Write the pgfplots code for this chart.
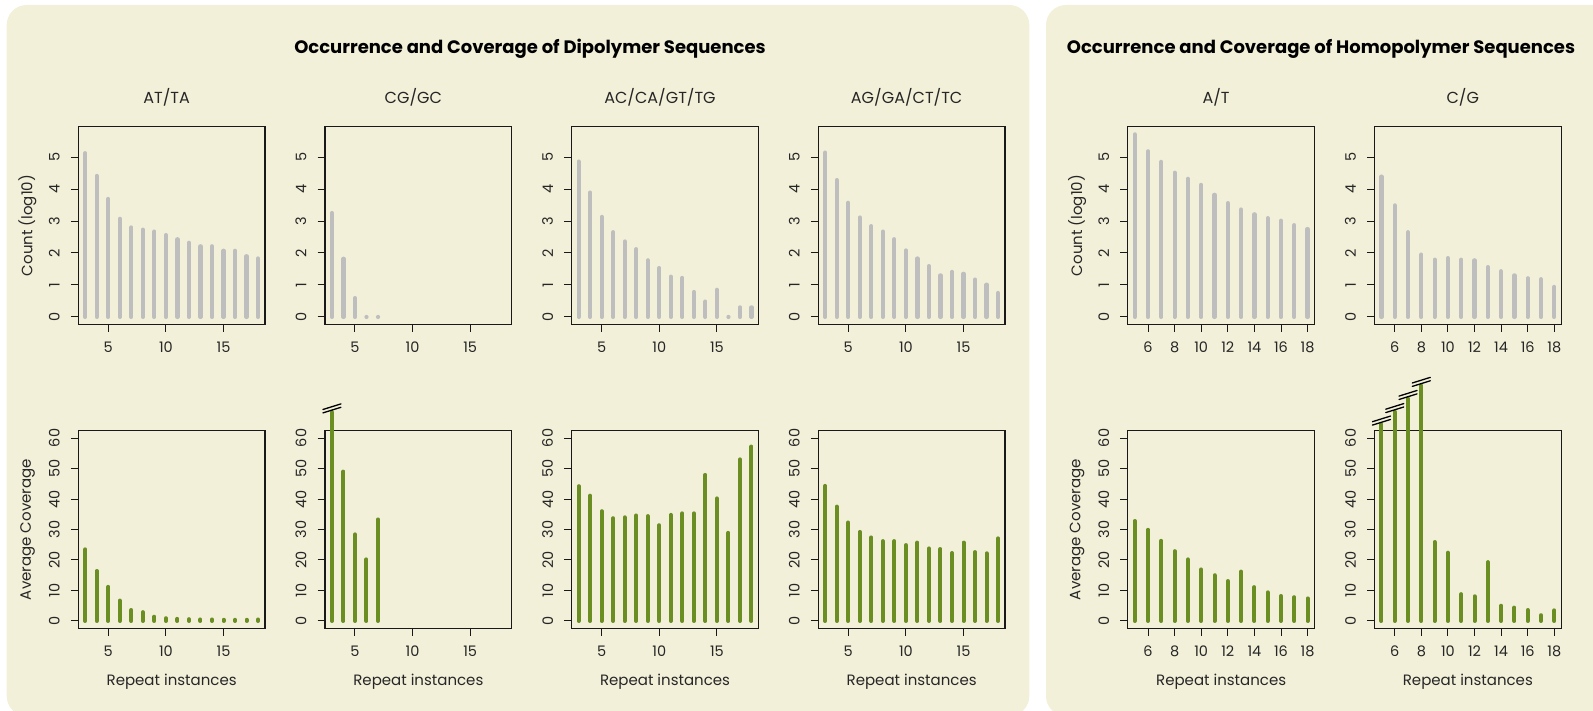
\documentclass[border=0pt]{standalone}
\usepackage{fontspec}
\setmainfont{Poppins}
\usepackage{pgfplots}
\pgfplotsset{compat=1.18}
\definecolor{panel}{HTML}{F2F0D9}
\definecolor{bargray}{HTML}{BEBEBE}
\definecolor{bargreen}{HTML}{6B8E23}
\pgfdeclareplotmark{brk}{%
  \pgfsetlinewidth{1.3pt}%
  \pgfsetroundcap
  \pgfpathmoveto{\pgfpoint{-9pt}{-0.8pt}}\pgfpathlineto{\pgfpoint{9pt}{4.8pt}}%
  \pgfpathmoveto{\pgfpoint{-9pt}{2.6pt}}\pgfpathlineto{\pgfpoint{9pt}{8.2pt}}%
  \pgfusepathqstroke}
\pgfplotsset{
  base/.style={scale only axis, width=186.7pt, height=197.6pt, anchor=south west, clip=false,
    axis line style={line width=1.2pt, black!90},
    tick pos=left, tick align=outside, major tick length=7.5pt,
    tick style={black!90, line width=1pt},
    ticklabel style={font=\fontsize{14.5}{16}\selectfont, text=black!85},
    /pgf/number format/assume math mode=true,
    xticklabel style={anchor=north, inner sep=0pt},
    yticklabel style={rotate=90, anchor=south, inner sep=0pt},
    xticklabel shift=10pt, yticklabel shift=11pt,
    title style={at={(axis description cs:0.473,1.088)}, anchor=base, font=\fontsize{16}{18}\selectfont, text=black!85},
    ylabel style={at={(axis description cs:-0.272,0.5)}, anchor=center, font=\fontsize{15}{17}\selectfont, text=black!85},
    xlabel style={at={(axis description cs:0.5,-0.287)}, anchor=base, font=\fontsize{15}{17}\selectfont, text=black!85},
  },
  cnt/.style={base, ymin=-0.23, ymax=5.95, ytick={0,1,2,3,4,5}},
  cov/.style={base, ymin=-2.4, ymax=62.4, ytick={0,10,20,30,40,50,60}, xlabel={Repeat instances}},
  lx/.style={xmin=2.4, xmax=18.6, xtick={5,10,15}},
  rx/.style={xmin=4.48, xmax=18.52, xtick={6,8,10,12,14,16,18}},
  gbar/.style={ycomb, bargray, line width=4.2pt, line cap=round},
  vbar/.style={ycomb, bargreen, line width=4pt, line cap=round},
  brkm/.style={only marks, mark=brk, black},
}
\begin{document}
\begin{tikzpicture}
\path[use as bounding box] (0pt,0pt) rectangle (1593pt,710pt);
\fill[panel, rounded corners=20pt] (6.7pt,-6pt) rectangle (1029.3pt,705pt);
\fill[panel, rounded corners=20pt] (1046pt,-6pt) rectangle (1640pt,705pt);
\node[anchor=base, font=\fontsize{18}{20}\selectfont\bfseries] at (530pt,656.7pt) {Occurrence and Coverage of Dipolymer Sequences};
\node[anchor=base, font=\fontsize{18}{20}\selectfont\bfseries] at (1321pt,656.7pt) {Occurrence and Coverage of Homopolymer Sequences};

% ---------- top row: counts ----------
\begin{axis}[cnt, lx, at={(78.3pt,385.7pt)}, title={AT/TA}, ylabel={Count (log10)}]
\addplot[gbar] coordinates {(3,5.12) (4,4.41) (5,3.69) (6,3.07) (7,2.80) (8,2.73) (9,2.67) (10,2.56) (11,2.43) (12,2.32) (13,2.21) (14,2.21) (15,2.07) (16,2.07) (17,1.90) (18,1.83)};
\end{axis}
\begin{axis}[cnt, lx, at={(325pt,385.7pt)}, title={CG/GC}]
\addplot[gbar] coordinates {(3,3.25) (4,1.82) (5,0.59) (6,0) (7,0)};
\end{axis}
\begin{axis}[cnt, lx, at={(571.7pt,385.7pt)}, title={AC/CA/GT/TG}]
\addplot[gbar] coordinates {(3,4.86) (4,3.89) (5,3.13) (6,2.65) (7,2.36) (8,2.12) (9,1.77) (10,1.53) (11,1.26) (12,1.22) (13,0.78) (14,0.48) (15,0.85) (16,0) (17,0.30) (18,0.30)};
\end{axis}
\begin{axis}[cnt, lx, at={(818.3pt,385.7pt)}, title={AG/GA/CT/TC}]
\addplot[gbar] coordinates {(3,5.14) (4,4.28) (5,3.57) (6,3.11) (7,2.84) (8,2.67) (9,2.43) (10,2.08) (11,1.83) (12,1.59) (13,1.30) (14,1.41) (15,1.35) (16,1.17) (17,1.01) (18,0.75)};
\end{axis}
\begin{axis}[cnt, rx, at={(1127.8pt,385.7pt)}, title={A/T}, ylabel={Count (log10)}]
\addplot[gbar] coordinates {(5,5.71) (6,5.18) (7,4.85) (8,4.51) (9,4.32) (10,4.13) (11,3.82) (12,3.56) (13,3.36) (14,3.21) (15,3.09) (16,3.01) (17,2.87) (18,2.75)};
\end{axis}
\begin{axis}[cnt, rx, at={(1374.5pt,385.7pt)}, title={C/G}]
\addplot[gbar] coordinates {(5,4.39) (6,3.49) (7,2.65) (8,1.95) (9,1.79) (10,1.84) (11,1.79) (12,1.77) (13,1.56) (14,1.43) (15,1.30) (16,1.21) (17,1.18) (18,0.94)};
\end{axis}

% ---------- bottom row: coverage ----------
\begin{axis}[cov, lx, at={(78.3pt,81.7pt)}, ylabel={Average Coverage}]
\addplot[vbar] coordinates {(3,23.5) (4,16.4) (5,11.2) (6,6.7) (7,3.6) (8,2.9) (9,1.4) (10,0.9) (11,0.7) (12,0.6) (13,0.5) (14,0.5) (15,0.4) (16,0.4) (17,0.4) (18,0.5)};
\end{axis}
\begin{axis}[cov, lx, at={(325pt,81.7pt)}]
\addplot[vbar] coordinates {(3,68.5) (4,49.0) (5,28.4) (6,20.2) (7,33.3)};
\addplot[brkm] coordinates {(3,68.5)};
\end{axis}
\begin{axis}[cov, lx, at={(571.7pt,81.7pt)}]
\addplot[vbar] coordinates {(3,44.2) (4,41.1) (5,36.0) (6,33.7) (7,34.0) (8,34.6) (9,34.4) (10,31.4) (11,34.8) (12,35.3) (13,35.3) (14,47.9) (15,40.2) (16,28.9) (17,53.0) (18,57.2)};
\end{axis}
\begin{axis}[cov, lx, at={(818.3pt,81.7pt)}]
\addplot[vbar] coordinates {(3,44.3) (4,37.5) (5,32.3) (6,29.2) (7,27.4) (8,26.2) (9,26.2) (10,24.9) (11,25.7) (12,23.8) (13,23.6) (14,22.3) (15,25.7) (16,22.6) (17,22.2) (18,27.1)};
\end{axis}
\begin{axis}[cov, rx, at={(1127.8pt,81.7pt)}, ylabel={Average Coverage}]
\addplot[vbar] coordinates {(5,32.8) (6,29.9) (7,26.3) (8,22.9) (9,20.2) (10,16.9) (11,15.0) (12,13.1) (13,16.2) (14,11.1) (15,9.4) (16,8.2) (17,7.8) (18,7.4)};
\end{axis}
\begin{axis}[cov, rx, at={(1374.5pt,81.7pt)}]
\addplot[vbar] coordinates {(5,64.5) (6,68.6) (7,72.9) (8,77.2) (9,25.9) (10,22.4) (11,8.8) (12,8.1) (13,19.3) (14,5.0) (15,4.4) (16,3.6) (17,1.9) (18,3.5)};
\addplot[brkm] coordinates {(5,64.5) (6,68.6) (7,72.9) (8,77.2)};
\end{axis}
\end{tikzpicture}
\end{document}
